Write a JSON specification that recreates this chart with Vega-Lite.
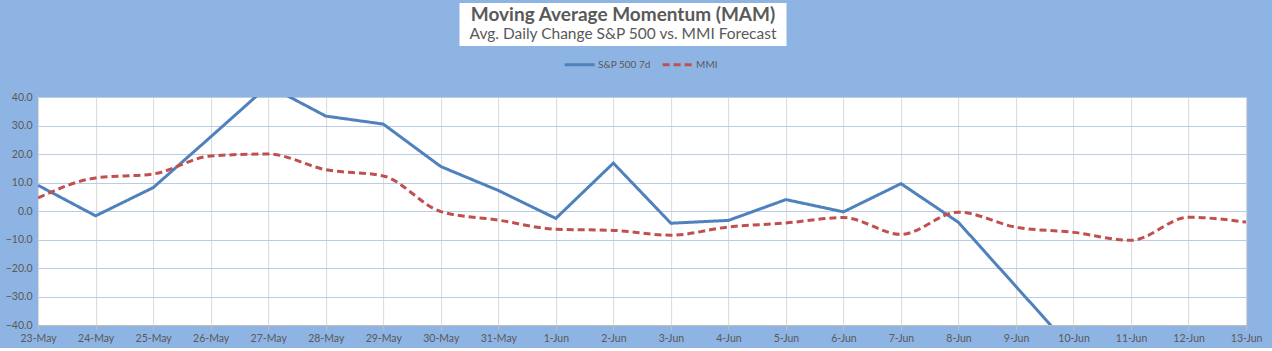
{
  "$schema": "https://vega.github.io/schema/vega-lite/v6.json",
  "background": "#8EB4E3",
  "padding": {"left": 5, "top": 3, "right": 12, "bottom": 4},
  "autosize": {"type": "pad"},
  "config": {"view": {"stroke": null}, "font": "Lato"},
  "spacing": 2,
  "center": true,
  "resolve": {"legend": {"color": "independent", "strokeDash": "independent"}},
  "vconcat": [
    {
      "width": 327,
      "height": 43,
      "view": {"fill": "white", "stroke": null},
      "data": {"values": [
        {"k": 1, "t": "Moving Average Momentum (MAM)"},
        {"k": 2, "t": "Avg. Daily Change S&P 500 vs. MMI Forecast"}
      ]},
      "layer": [
        {"transform": [{"filter": "datum.k == 1"}], "mark": {"type": "text", "fontSize": 19, "fontWeight": "bold", "color": "#595959"},
         "encoding": {"y": {"field": "k", "type": "ordinal", "axis": null, "scale": {"type": "band", "paddingOuter": 0.1, "domain": [1, 2]}}, "text": {"field": "t"}}},
        {"transform": [{"filter": "datum.k == 2"}], "mark": {"type": "text", "fontSize": 15.5, "color": "#595959"},
         "encoding": {"y": {"field": "k", "type": "ordinal", "axis": null, "scale": {"type": "band", "paddingOuter": 0.1, "domain": [1, 2]}}, "text": {"field": "t"}}},
        {"transform": [{"filter": "datum.k == 1"}], "mark": {"type": "text", "text": ".", "opacity": 0, "align": "right", "dx": 217.5, "fontSize": 10},
         "encoding": {}}
      ]
    },
    {
      "width": 1208,
      "height": 228,
      "view": {"fill": "white", "stroke": null},
      "data": {"values": [
        {"date": "23-May", "series": "S&P 500 7d", "value": 9.0},
        {"date": "24-May", "series": "S&P 500 7d", "value": -1.7},
        {"date": "25-May", "series": "S&P 500 7d", "value": 8.2},
        {"date": "26-May", "series": "S&P 500 7d", "value": 26.0},
        {"date": "27-May", "series": "S&P 500 7d", "value": 44.0},
        {"date": "28-May", "series": "S&P 500 7d", "value": 33.3},
        {"date": "29-May", "series": "S&P 500 7d", "value": 30.5},
        {"date": "30-May", "series": "S&P 500 7d", "value": 15.6},
        {"date": "31-May", "series": "S&P 500 7d", "value": 7.2},
        {"date": "1-Jun", "series": "S&P 500 7d", "value": -2.6},
        {"date": "2-Jun", "series": "S&P 500 7d", "value": 16.8},
        {"date": "3-Jun", "series": "S&P 500 7d", "value": -4.3},
        {"date": "4-Jun", "series": "S&P 500 7d", "value": -3.3},
        {"date": "5-Jun", "series": "S&P 500 7d", "value": 4.0},
        {"date": "6-Jun", "series": "S&P 500 7d", "value": -0.3},
        {"date": "7-Jun", "series": "S&P 500 7d", "value": 9.6},
        {"date": "8-Jun", "series": "S&P 500 7d", "value": -4.0},
        {"date": "9-Jun", "series": "S&P 500 7d", "value": -26.5},
        {"date": "10-Jun", "series": "S&P 500 7d", "value": -49.0},
        {"date": "23-May", "series": "MMI", "value": 4.6},
        {"date": "24-May", "series": "MMI", "value": 11.6},
        {"date": "25-May", "series": "MMI", "value": 13.0},
        {"date": "26-May", "series": "MMI", "value": 19.3},
        {"date": "27-May", "series": "MMI", "value": 20.0},
        {"date": "28-May", "series": "MMI", "value": 14.5},
        {"date": "29-May", "series": "MMI", "value": 12.3},
        {"date": "30-May", "series": "MMI", "value": -0.2},
        {"date": "31-May", "series": "MMI", "value": -3.2},
        {"date": "1-Jun", "series": "MMI", "value": -6.4},
        {"date": "2-Jun", "series": "MMI", "value": -6.8},
        {"date": "3-Jun", "series": "MMI", "value": -8.5},
        {"date": "4-Jun", "series": "MMI", "value": -5.6},
        {"date": "5-Jun", "series": "MMI", "value": -4.2},
        {"date": "6-Jun", "series": "MMI", "value": -2.3},
        {"date": "7-Jun", "series": "MMI", "value": -8.2},
        {"date": "8-Jun", "series": "MMI", "value": -0.4},
        {"date": "9-Jun", "series": "MMI", "value": -5.7},
        {"date": "10-Jun", "series": "MMI", "value": -7.5},
        {"date": "11-Jun", "series": "MMI", "value": -10.3},
        {"date": "12-Jun", "series": "MMI", "value": -2.2},
        {"date": "13-Jun", "series": "MMI", "value": -3.9}
      ]},
      "encoding": {
        "x": {
          "field": "date", "type": "ordinal",
          "sort": ["23-May","24-May","25-May","26-May","27-May","28-May","29-May","30-May","31-May","1-Jun","2-Jun","3-Jun","4-Jun","5-Jun","6-Jun","7-Jun","8-Jun","9-Jun","10-Jun","11-Jun","12-Jun","13-Jun"],
          "scale": {"type": "point", "padding": 0, "domain": ["23-May","24-May","25-May","26-May","27-May","28-May","29-May","30-May","31-May","1-Jun","2-Jun","3-Jun","4-Jun","5-Jun","6-Jun","7-Jun","8-Jun","9-Jun","10-Jun","11-Jun","12-Jun","13-Jun"]},
          "axis": {"title": null, "labelAngle": 0, "grid": true, "gridColor": "#D9D9D9", "domainColor": "#BFBFBF", "tickColor": "#BFBFBF", "tickSize": 5, "labelColor": "#595959", "labelFontSize": 10.5, "labelPadding": 3}
        },
        "y": {
          "field": "value", "type": "quantitative",
          "scale": {"domain": [-40, 40], "nice": false, "zero": false},
          "axis": {"title": null, "values": [-40,-30,-20,-10,0,10,20,30,40], "format": ".1f", "grid": true, "gridColor": "#B9CDE5", "domain": false, "ticks": false, "labelColor": "#595959", "labelFontSize": 10.5, "labelPadding": 6}
        },
        "color": {
          "field": "series", "type": "nominal",
          "scale": {"domain": ["S&P 500 7d", "MMI"], "range": ["#4F81BD", "#C0504D"]},
          "legend": {"orient": "none", "legendX": 525, "legendY": -49, "title": null, "direction": "horizontal", "symbolType": "stroke", "symbolStrokeWidth": 3, "symbolSize": 900, "labelFontSize": 10, "labelColor": "#595959", "labelOffset": 2, "columnPadding": 5}
        },
        "strokeDash": {
          "field": "series", "type": "nominal",
          "scale": {"domain": ["S&P 500 7d", "MMI"], "range": [[1, 0], [7, 4]]},
          "legend": {"orient": "none", "legendX": 525, "legendY": -49, "title": null, "direction": "horizontal", "symbolType": "stroke", "symbolStrokeWidth": 3, "symbolSize": 900, "labelFontSize": 10, "labelColor": "#595959", "labelOffset": 2, "columnPadding": 5}
        }
      },
      "layer": [
        {"transform": [{"filter": "datum.series == 'S&P 500 7d'"}], "mark": {"type": "line", "strokeWidth": 3, "clip": true, "interpolate": "linear"}},
        {"transform": [{"filter": "datum.series == 'MMI'"}], "mark": {"type": "line", "strokeWidth": 3, "clip": true, "interpolate": "monotone"}}
      ]
    }
  ]
}
